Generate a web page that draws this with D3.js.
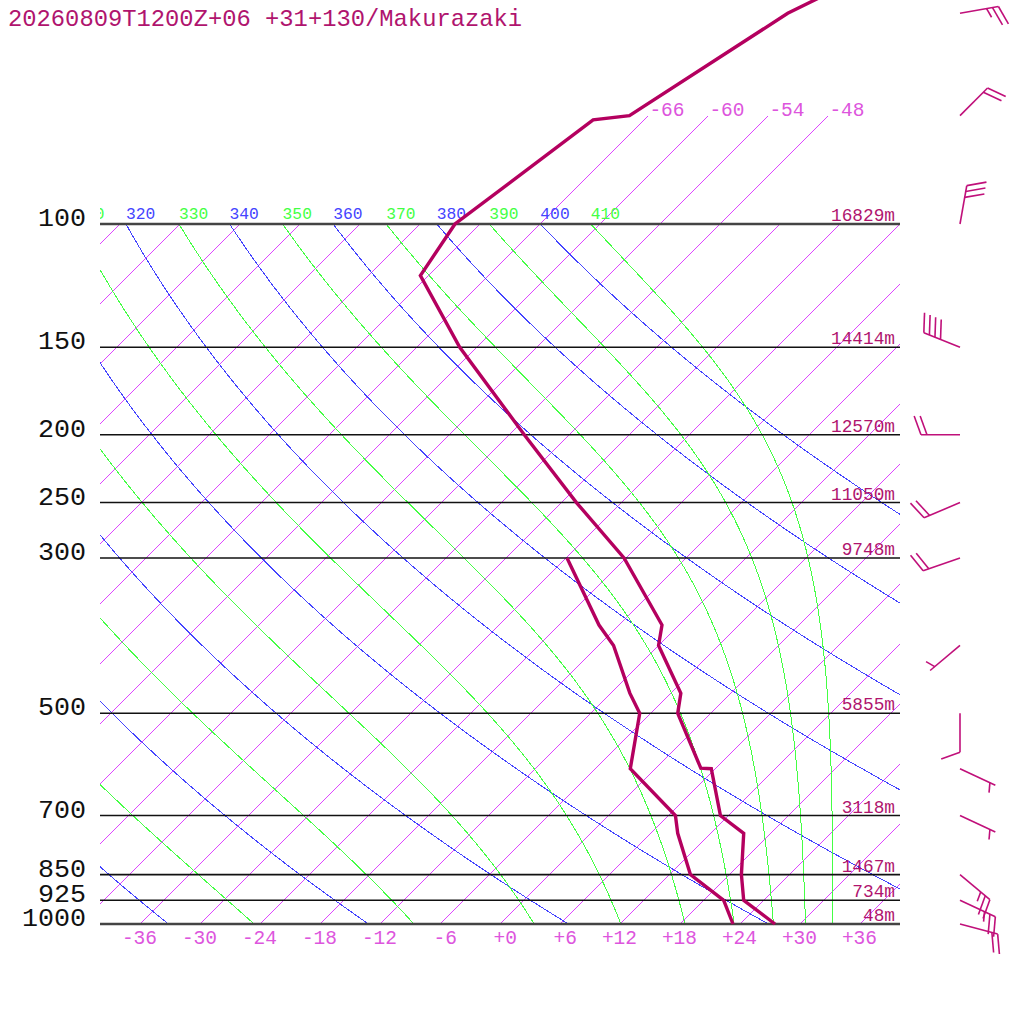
<!DOCTYPE html>
<html>
<head>
<meta charset="utf-8">
<script src="https://cdn.jsdelivr.net/npm/d3@7"></script>
<style>
  body { margin: 0; background: #fff; }
  svg { display: block; }
  text { font-family: "Liberation Mono", "DejaVu Sans Mono", monospace; }
</style>
</head>
<body>
<div id="chart"></div>
<script>
const title = "20260809T1200Z+06 +31+130/Makurazaki";

// temperature profile (hPa, degC)
const tempP = [1000, 925, 850, 742, 700, 600, 599, 500, 468, 400, 374, 300, 250, 200, 150, 118.5, 100, 71, 70, 50, 30];
const tempT = [27.5, 22.0, 19.2, 15.3, 11.2, 5.6, 4.5, -3.3, -5.0, -12.0, -13.7, -24.2, -34.5, -46.5, -61.7, -72.8, -74.5, -71.1, -67.9, -62.3, -46.3];

// dewpoint profile
const dewP = [1000, 925, 850, 742, 700, 600, 500, 468, 400, 374, 300];
const dewT = [23.3, 20.0, 14.1, 8.7, 6.7, -2.5, -7.1, -10.1, -16.5, -20.0, -29.9];

// isobars and their heights
const isobars = [1000, 925, 850, 700, 500, 300, 250, 200, 150, 100];
const heights = ["48m", "734m", "1467m", "3118m", "5855m", "9748m", "11050m", "12570m", "14414m", "16829m"];

// guide lines
const isotherms = [-108, -102, -96, -90, -84, -78, -72, -66, -60, -54, -48, -42, -36, -30, -24, -18, -12, -6, 0, 6, 12, 18, 24, 30, 36];
const upperIsotherms = [-66, -60, -54, -48];
const tempTicks = [-36, -30, -24, -18, -12, -6, 0, 6, 12, 18, 24, 30, 36];
const dryThetas = [240, 260, 280, 300, 320, 340, 360, 380, 400];
const moistThetas = [250, 270, 290, 310, 330, 350, 370, 390, 410];

// winds (deg, kt)
const windP = [50, 70, 100, 150, 200, 250, 300, 400, 500, 600, 700, 850, 925, 1000];
const windDir = [80, 45, 10, 292, 270, 247, 251, 230, 180, 115, 115, 130, 115, 105];
const windSpd = [25, 20, 30, 40, 20, 20, 20, 5, 10, 5, 5, 25, 25, 20];

const width = 1024, height = 1024;
const left = 100, right = 900;

const y = d3.scaleLog().domain([1000, 100]).range([924, 224]);
const x = d3.scaleLinear().domain([-40, 40]).range([left, right]);
const skewX = (t, p) => x(t) + (y(1000) - y(p));

const cLine = "#b4005f", cText = "#b0146e", cIso = "rgb(221,68,255)", cIsoText = "#dd55dd";
const cDry = "#4444ff", cMoist = "#44ff44";

const svg = d3.select("#chart").append("svg")
  .attr("width", width)
  .attr("height", height);

const defs = svg.append("defs");
defs.append("clipPath").attr("id", "plot")
  .append("rect").attr("x", left).attr("y", y(100)).attr("width", right - left).attr("height", y(1000) - y(100));
defs.append("clipPath").attr("id", "labels")
  .append("rect").attr("x", left).attr("y", 0).attr("width", right - left).attr("height", y(1000));

const grid = svg.append("g").attr("clip-path", "url(#plot)").attr("shape-rendering", "crispEdges");
const line = d3.line().x(d => skewX(d[1], d[0])).y(d => y(d[0]));
const pSteps = d3.range(0, 201).map(i => 1000 * Math.pow(0.1, i / 200));

// isotherms
grid.selectAll("line.isotherm")
  .data(isotherms)
  .enter().append("line")
  .attr("class", "isotherm")
  .attr("x1", t => skewX(t, 1000)).attr("y1", y(1000))
  .attr("x2", t => skewX(t, 100)).attr("y2", y(100))
  .attr("stroke", cIso).attr("stroke-width", 1);

// dry adiabats
grid.selectAll("path.dry")
  .data(dryThetas)
  .enter().append("path")
  .attr("class", "dry")
  .attr("d", th => line(pSteps.map(p => [p, th * Math.pow(p / 1000, 0.2857) - 273.15])))
  .attr("fill", "none").attr("stroke", cDry).attr("stroke-width", 1);

// pseudo-adiabats by theta-e
function thetaESat(T, p) {
  const tc = T - 273.15;
  const es = 6.112 * Math.exp(17.67 * tc / (tc + 243.5));
  if (es > 0.5 * p) return Infinity;
  const r = 622 * es / (p - es);
  return T * Math.pow(1000 / p, 0.2854 * (1 - 0.00028 * r)) *
    Math.exp((3.376 / T - 0.00254) * r * (1 + 0.00081 * r));
}
function moistT(te, p) {
  let lo = 120, hi = 345;
  for (let i = 0; i < 60; i++) {
    const mid = (lo + hi) / 2;
    if (thetaESat(mid, p) < te) lo = mid; else hi = mid;
  }
  return (lo + hi) / 2 - 273.15;
}
grid.selectAll("path.moist")
  .data(moistThetas)
  .enter().append("path")
  .attr("class", "moist")
  .attr("d", te => line(pSteps.map(p => [p, moistT(te, p)])))
  .attr("fill", "none").attr("stroke", cMoist).attr("stroke-width", 1);

// isotherms above 100 hPa with labels
svg.selectAll("line.upiso")
  .data(upperIsotherms)
  .enter().append("line")
  .attr("class", "upiso")
  .attr("shape-rendering", "crispEdges")
  .attr("x1", t => skewX(t, 100)).attr("y1", y(100))
  .attr("x2", t => skewX(t, 70)).attr("y2", y(70))
  .attr("stroke", cIso).attr("stroke-width", 1);
svg.selectAll("text.upisoLabel")
  .data(upperIsotherms)
  .enter().append("text")
  .attr("class", "upisoLabel")
  .attr("x", t => skewX(t, 70) + 1)
  .attr("y", y(70) + 0.5)
  .attr("font-size", 19.5)
  .attr("fill", cIsoText)
  .text(t => "-" + Math.abs(t));

// theta labels along 100 hPa (only those that reach the plot)
const lab = svg.append("g").attr("clip-path", "url(#labels)");
const thetaLabels = dryThetas.map(th => ({ th, c: cDry, t: th * Math.pow(0.1, 0.2857) - 273.15 }))
  .concat(moistThetas.map(th => ({ th, c: cMoist, t: moistT(th, 100) })))
  .filter(d => skewX(d.t, 100) > left - 30);
lab.selectAll("text.thLabel")
  .data(thetaLabels)
  .enter().append("text")
  .attr("class", "thLabel")
  .attr("x", d => skewX(d.t, 100))
  .attr("y", y(100) - 5)
  .attr("font-size", 16.3)
  .attr("fill", d => d.c)
  .text(d => d.th);

// isobars
svg.selectAll("line.isobar")
  .data(isobars)
  .enter().append("line")
  .attr("class", "isobar")
  .attr("x1", left).attr("x2", right)
  .attr("y1", p => y(p)).attr("y2", p => y(p))
  .attr("stroke", p => (p === 1000 || p === 100) ? "#444" : "#111")
  .attr("stroke-width", p => (p === 1000 || p === 100) ? 2.4 : 1.6);

svg.selectAll("text.pLabel")
  .data(isobars)
  .enter().append("text")
  .attr("class", "pLabel")
  .attr("x", 86)
  .attr("y", p => y(p) + 2)
  .attr("text-anchor", "end")
  .attr("font-size", 26.7)
  .attr("fill", "#111")
  .text(p => p);

svg.selectAll("text.hLabel")
  .data(isobars)
  .enter().append("text")
  .attr("class", "hLabel")
  .attr("x", 895)
  .attr("y", p => y(p) - 3)
  .attr("text-anchor", "end")
  .attr("font-size", 17.8)
  .attr("fill", cText)
  .text((p, i) => heights[i]);

// temperature axis labels
svg.selectAll("text.tLabel")
  .data(tempTicks)
  .enter().append("text")
  .attr("class", "tLabel")
  .attr("x", t => x(t) + 17)
  .attr("y", 944)
  .attr("text-anchor", "end")
  .attr("font-size", 19.5)
  .attr("fill", cIsoText)
  .text(t => (t < 0 ? "-" : "+") + Math.abs(t));

// profiles
svg.append("path")
  .attr("d", line(dewP.map((p, i) => [p, dewT[i]])))
  .attr("fill", "none").attr("stroke", cLine).attr("stroke-width", 3.4);
svg.append("path")
  .attr("d", line(tempP.map((p, i) => [p, tempT[i]])))
  .attr("fill", "none").attr("stroke", cLine).attr("stroke-width", 3.4);

// wind barbs
const barbs = svg.append("g").attr("stroke", "#c0107a").attr("stroke-width", 1.6).attr("fill", "none");
const barbAngle = 70 * Math.PI / 180;
windP.forEach((p, i) => {
  const a = windDir[i] * Math.PI / 180;
  const dx = Math.sin(a), dy = -Math.cos(a);
  const nx = -dy, ny = dx;
  const bx = dx * Math.cos(barbAngle) + nx * Math.sin(barbAngle);
  const by = dy * Math.cos(barbAngle) + ny * Math.sin(barbAngle);
  const x0 = 960, y0 = y(p), len = 39;
  const tx = x0 + dx * len, ty = y0 + dy * len;
  barbs.append("line").attr("x1", x0).attr("y1", y0).attr("x2", tx).attr("y2", ty);
  const full = Math.floor(windSpd[i] / 10);
  const half = windSpd[i] % 10 >= 5;
  let k = 0;
  for (let j = 0; j < full; j++, k++) {
    const sx = tx - dx * 6 * k, sy = ty - dy * 6 * k;
    barbs.append("line").attr("x1", sx).attr("y1", sy).attr("x2", sx + bx * 20).attr("y2", sy + by * 20);
  }
  if (half) {
    if (k === 0) k = 1;
    const sx = tx - dx * 6 * k, sy = ty - dy * 6 * k;
    barbs.append("line").attr("x1", sx).attr("y1", sy).attr("x2", sx + bx * 10).attr("y2", sy + by * 10);
  }
});

svg.append("text")
  .attr("x", 8)
  .attr("y", 26)
  .attr("font-size", 23.8)
  .attr("fill", cText)
  .text(title);
</script>
</body>
</html>
